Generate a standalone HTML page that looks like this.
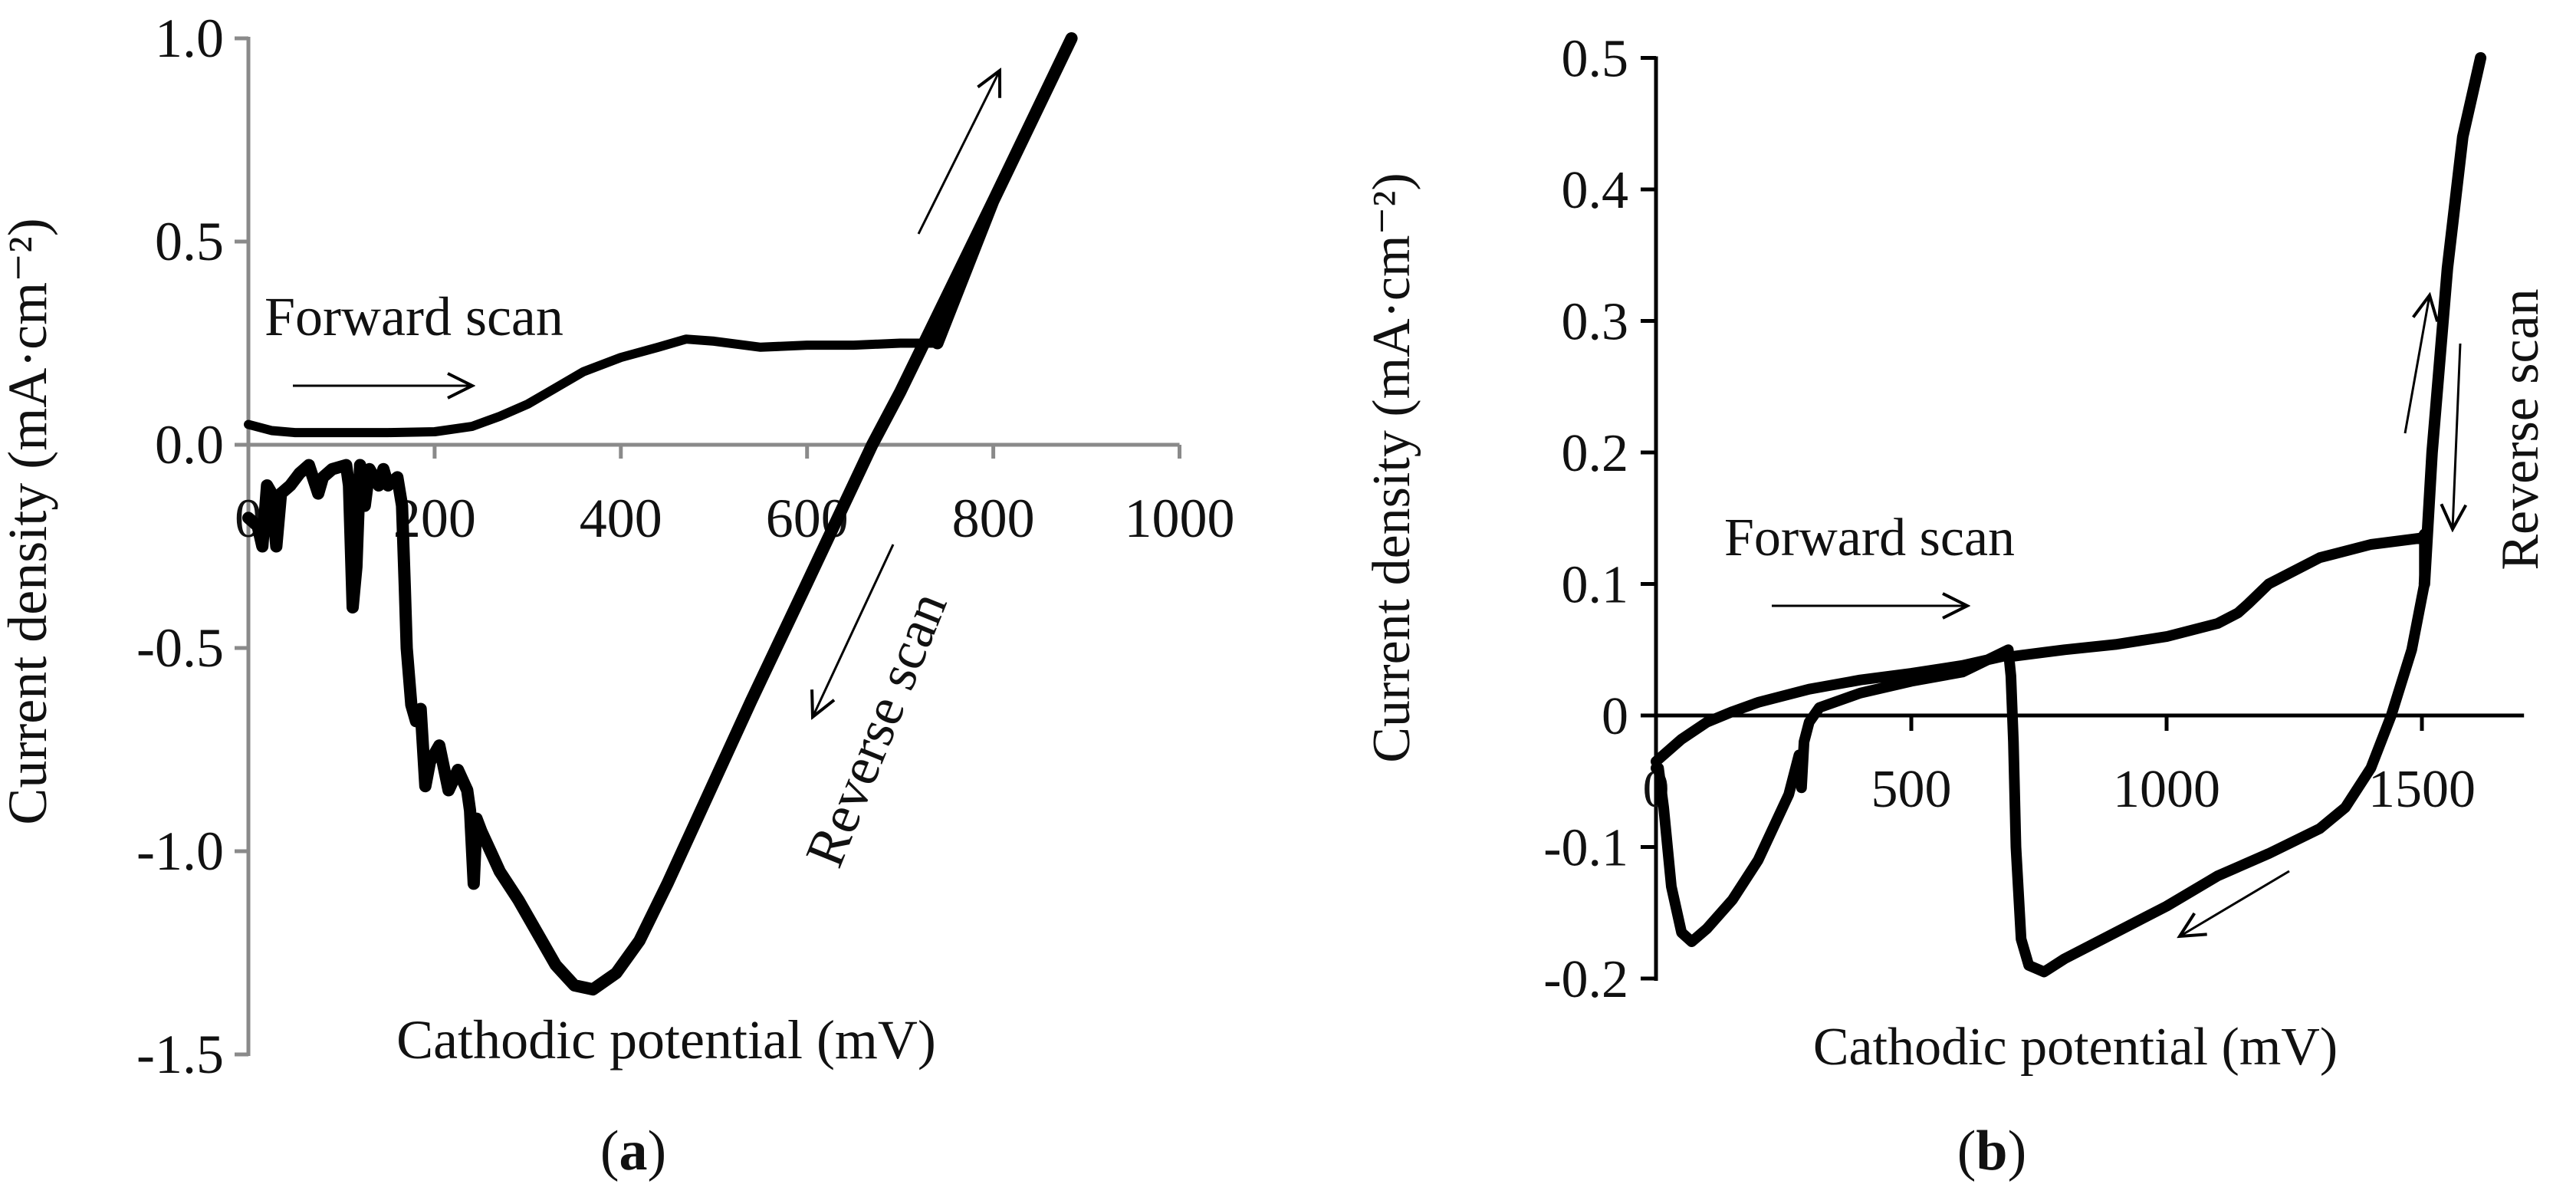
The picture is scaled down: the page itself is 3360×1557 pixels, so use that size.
<!DOCTYPE html>
<html><head><meta charset="utf-8"><style>
html,body{margin:0;padding:0;background:#fff;}
svg{display:block;}
svg text{font-family:"Liberation Serif","DejaVu Serif",serif;}
</style></head><body>
<svg id="fig" width="3360" height="1557" viewBox="0 0 3360 1557" xmlns="http://www.w3.org/2000/svg">
<defs>
<marker id="ah" viewBox="0 0 20 20" refX="18" refY="10" markerWidth="40" markerHeight="40" markerUnits="userSpaceOnUse" orient="auto">
<path d="M2,2 L18,10 L2,18" fill="none" stroke="#000" stroke-width="2"/>
</marker>
</defs>
<g id="chartA"></g>
<g id="chartB"></g>
</svg>
<script>
// ---- Chart (a) data ----
const aXTicks = [0, 200, 400, 600, 800, 1000];
const aYTicks = [1.0, 0.5, 0.0, -0.5, -1.0, -1.5];
const aYTickLabels = ["1.0", "0.5", "0.0", "-0.5", "-1.0", "-1.5"];
const aFwdX = [0, 25, 50, 100, 150, 200, 240, 270, 300, 330, 360, 400, 440, 470, 500, 550, 600, 650, 700, 740];
const aFwdY = [0.05, 0.035, 0.03, 0.03, 0.03, 0.032, 0.045, 0.07, 0.1, 0.14, 0.18, 0.215, 0.24, 0.26, 0.255, 0.24, 0.245, 0.245, 0.25, 0.25];
const aRevX = [740, 800, 884, 800, 700, 670, 600, 540, 490, 450, 420, 395, 370, 350, 330, 310, 290, 270, 260, 250, 245, 242, 238, 235, 225, 215, 205, 195, 190, 185, 180, 175, 170, 168, 165, 160, 150, 145, 140, 130, 125, 120, 116, 112, 108, 105, 90, 80, 75, 65, 55, 45, 35, 30, 25, 20, 15, 10, 0];
const aRevY = [0.25, 0.6, 1.0, 0.6, 0.13, 0.0, -0.34, -0.63, -0.88, -1.08, -1.22, -1.3, -1.34, -1.33, -1.28, -1.2, -1.12, -1.05, -1.0, -0.95, -0.92, -1.08, -0.9, -0.85, -0.8, -0.85, -0.74, -0.78, -0.84, -0.65, -0.68, -0.64, -0.5, -0.35, -0.15, -0.08, -0.1, -0.06, -0.1, -0.06, -0.15, -0.05, -0.3, -0.4, -0.1, -0.05, -0.06, -0.08, -0.12, -0.05, -0.07, -0.1, -0.12, -0.25, -0.12, -0.1, -0.25, -0.2, -0.18];

// ---- Chart (b) data ----
const bXTicks = [0, 500, 1000, 1500];
const bYTicks = [0.5, 0.4, 0.3, 0.2, 0.1, 0, -0.1, -0.2];
const bYTickLabels = ["0.5", "0.4", "0.3", "0.2", "0.1", "0", "-0.1", "-0.2"];
const bPathX = [0, 50, 100, 150, 200, 300, 400, 500, 600, 680, 700, 800, 900, 1000, 1100, 1140, 1160, 1200, 1300, 1400, 1500, 1505, 1505, 1480, 1440, 1400, 1350, 1300, 1200, 1100, 1000, 900, 800, 760, 730, 715, 705, 700, 695, 690, 600, 500, 400, 320, 300, 290, 285, 280, 260, 230, 200, 150, 100, 70, 50, 30, 15, 5, 0];
const bPathY = [-0.035, -0.018, -0.005, 0.003, 0.01, 0.02, 0.027, 0.032, 0.038, 0.045, 0.045, 0.05, 0.054, 0.06, 0.07, 0.078, 0.085, 0.1, 0.12, 0.13, 0.135, 0.138, 0.1, 0.05, 0.0, -0.04, -0.07, -0.086, -0.105, -0.122, -0.145, -0.165, -0.185, -0.195, -0.19, -0.17, -0.1, -0.02, 0.03, 0.05, 0.033, 0.026, 0.017, 0.006, -0.005, -0.02, -0.055, -0.03, -0.06, -0.085, -0.11, -0.14, -0.162, -0.172, -0.165, -0.13, -0.07, -0.04, -0.04];
const bUpX = [1505, 1520, 1550, 1580, 1615];
const bUpY = [0.1, 0.2, 0.34, 0.44, 0.5];

const NS = "http://www.w3.org/2000/svg";
const FONT = "Liberation Serif, DejaVu Serif, serif";
function mk(parent, tag, attrs, text) {
  const e = document.createElementNS(NS, tag);
  for (const k in attrs) e.setAttribute(k, attrs[k]);
  if (tag === "text") e.setAttribute("font-family", FONT);
  if (text !== undefined) e.textContent = text;
  parent.appendChild(e);
  return e;
}

const ax = v => 324 + v * 1.2145;
const ay = v => 580 - v * 530;
const bx = v => 2160 + v * 0.666;
const by = v => 933 - v * 1715;

function poly(xs, ys, fx, fy) {
  return xs.map((x, i) => fx(x).toFixed(1) + "," + fy(ys[i]).toFixed(1)).join(" ");
}

// ===== Chart A =====
const A = document.getElementById("chartA");
let el;
el = mk(A, "line", {x1: ax(0), y1: ay(1.0) - 2, x2: ax(0), y2: ay(-1.5) + 2, stroke: "#8a8a8a", "stroke-width": 5});


el = mk(A, "line", {x1: ax(0), y1: ay(0), x2: ax(1000), y2: ay(0), stroke: "#8a8a8a", "stroke-width": 5});


aYTicks.forEach((t, i) => {
  const tk = mk(A, "line", {x1: ax(0) - 18, y1: ay(t), x2: ax(0), y2: ay(t), stroke: "#8a8a8a", "stroke-width": 5});
  
  
  const lb = mk(A, "text", {x: 292, y: ay(t) + 24, "font-size": 72, "text-anchor": "end", fill: "#111"}, aYTickLabels[i]);
  
  
});
aXTicks.forEach(t => {
  const tk = mk(A, "line", {x1: ax(t), y1: ay(0), x2: ax(t), y2: ay(0) + 18, stroke: "#8a8a8a", "stroke-width": 5});
  
  
  const lb = mk(A, "text", {x: ax(t), y: 700, "font-size": 72, "text-anchor": "middle", fill: "#111"}, String(t));
  
  
});
el = mk(A, "polyline", {points: poly(aFwdX, aFwdY, ax, ay), fill: "none", stroke: "#000", "stroke-width": 12, "stroke-linejoin": "round", "stroke-linecap": "round"});


el = mk(A, "polyline", {points: poly(aRevX, aRevY, ax, ay), fill: "none", stroke: "#000", "stroke-width": 16, "stroke-linejoin": "round", "stroke-linecap": "round"});


el = mk(A, "text", {x: 60, y: 680, "font-size": 72, "text-anchor": "middle", transform: "rotate(-90 60 680)", fill: "#111"}, "Current density (mA·cm⁻²)");


el = mk(A, "text", {x: 869, y: 1380, "font-size": 72, "text-anchor": "middle", fill: "#111"}, "Cathodic potential (mV)");


el = mk(A, "text", {x: 345, y: 437, "font-size": 72, fill: "#111"}, "Forward scan");


el = mk(A, "line", {x1: 382, y1: 503, x2: 616, y2: 503, stroke: "#000", "stroke-width": 3, "marker-end": "url(#ah)"});


el = mk(A, "line", {x1: 1198, y1: 305, x2: 1304, y2: 92, stroke: "#000", "stroke-width": 3, "marker-end": "url(#ah)"});


el = mk(A, "line", {x1: 1165, y1: 710, x2: 1060, y2: 935, stroke: "#000", "stroke-width": 3, "marker-end": "url(#ah)"});


el = mk(A, "text", {x: 1165, y: 960, "font-size": 72, "text-anchor": "middle", transform: "rotate(-68 1165 960)", fill: "#111"}, "Reverse scan");


el = mk(A, "text", {x: 826, y: 1525, "font-size": 74, "text-anchor": "middle", fill: "#111"});


el.innerHTML = '(<tspan font-weight="bold">a</tspan>)';

// ===== Chart B =====
const B = document.getElementById("chartB");
el = mk(B, "line", {x1: bx(0), y1: by(0.5) - 2, x2: bx(0), y2: by(-0.2) + 3, stroke: "#000", "stroke-width": 5});


el = mk(B, "line", {x1: bx(0) - 20, y1: by(0), x2: bx(1700), y2: by(0), stroke: "#000", "stroke-width": 5});


bYTicks.forEach((t, i) => {
  const tk = mk(B, "line", {x1: bx(0) - 20, y1: by(t), x2: bx(0), y2: by(t), stroke: "#000", "stroke-width": 5});
  
  
  const lb = mk(B, "text", {x: 2124, y: by(t) + 24, "font-size": 70, "text-anchor": "end", fill: "#111"}, bYTickLabels[i]);
  
  
});
bXTicks.forEach(t => {
  const tk = mk(B, "line", {x1: bx(t), y1: by(0), x2: bx(t), y2: by(0) + 20, stroke: "#000", "stroke-width": 5});
  
  
  const lb = mk(B, "text", {x: bx(t), y: 1052, "font-size": 70, "text-anchor": "middle", fill: "#111"}, String(t));
  
  
});
el = mk(B, "polyline", {points: poly(bPathX, bPathY, bx, by), fill: "none", stroke: "#000", "stroke-width": 14, "stroke-linejoin": "round", "stroke-linecap": "round"});


el = mk(B, "polyline", {points: poly(bUpX, bUpY, bx, by), fill: "none", stroke: "#000", "stroke-width": 15, "stroke-linejoin": "round", "stroke-linecap": "round"});


el = mk(B, "text", {x: 1838, y: 610, "font-size": 70, "text-anchor": "middle", transform: "rotate(-90 1838 610)", fill: "#111"}, "Current density (mA·cm⁻²)");


el = mk(B, "text", {x: 2707, y: 1388, "font-size": 70, "text-anchor": "middle", fill: "#111"}, "Cathodic potential (mV)");


el = mk(B, "text", {x: 2249, y: 724, "font-size": 70, fill: "#111"}, "Forward scan");


el = mk(B, "line", {x1: 2311, y1: 790, x2: 2566, y2: 790, stroke: "#000", "stroke-width": 3, "marker-end": "url(#ah)"});


el = mk(B, "line", {x1: 3137, y1: 565, x2: 3169, y2: 385, stroke: "#000", "stroke-width": 3, "marker-end": "url(#ah)"});


el = mk(B, "line", {x1: 3209, y1: 448, x2: 3199, y2: 690, stroke: "#000", "stroke-width": 3, "marker-end": "url(#ah)"});


el = mk(B, "line", {x1: 2986, y1: 1136, x2: 2843, y2: 1221, stroke: "#000", "stroke-width": 3, "marker-end": "url(#ah)"});


el = mk(B, "text", {x: 3310, y: 560, "font-size": 70, "text-anchor": "middle", transform: "rotate(-90 3310 560)", fill: "#111"}, "Reverse scan");


el = mk(B, "text", {x: 2598, y: 1525, "font-size": 74, "text-anchor": "middle", fill: "#111"});


el.innerHTML = '(<tspan font-weight="bold">b</tspan>)';
</script>
</body></html>
